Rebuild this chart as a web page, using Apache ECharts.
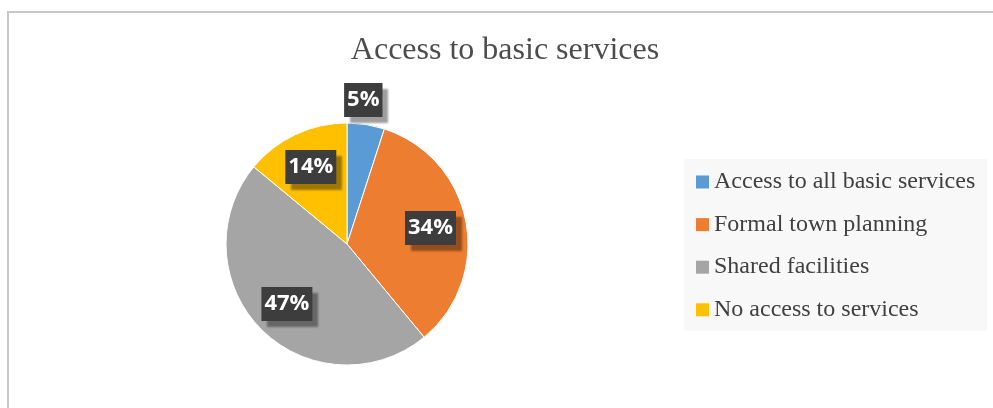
<!DOCTYPE html>
<html>
<head>
<meta charset="utf-8">
<title>Access to basic services</title>
<script src="https://cdn.jsdelivr.net/npm/echarts@6/dist/echarts.min.js"></script>
<style>
  html, body { margin: 0; padding: 0; background: #ffffff; }
  #chart { width: 993px; height: 408px; }
</style>
</head>
<body>
<div id="chart"></div>
<script>
// Survey shares (percent of respondents)
const chartTitle = 'Access to basic services';
const categories = [
  'Access to all basic services',
  'Formal town planning',
  'Shared facilities',
  'No access to services'
];
const shares = [5, 34, 47, 14];
const sliceColors = ['#5B9BD5', '#ED7D31', '#A5A5A5', '#FFC000'];

const center = [347, 244];

// Dark callout boxes with a drop shadow for the percentage labels
const labelBox = {
  show: true,
  position: 'inside',
  formatter: p => p.value + '%',
  color: '#ffffff',
  fontFamily: '"Open Sans", "DejaVu Sans", sans-serif',
  fontWeight: 'bold',
  fontSize: 22,
  lineHeight: 26,
  backgroundColor: '#3d3d3d',
  padding: [4, 3, 4, 3],
  shadowColor: 'rgba(0,0,0,0.38)',
  shadowBlur: 2,
  shadowOffsetX: 6,
  shadowOffsetY: 6
};

const chart = echarts.init(document.getElementById('chart'), null, { renderer: 'canvas' });

chart.setOption({
  animation: false,
  backgroundColor: '#ffffff',
  graphic: [{
    type: 'rect',
    silent: true,
    shape: { x: 8, y: 12, width: 1100, height: 500 },
    style: { fill: 'none', stroke: '#c8c8c8', lineWidth: 2 }
  }],
  title: {
    text: chartTitle,
    left: 505,
    top: 35,
    textAlign: 'center',
    padding: 0,
    textStyle: {
      fontFamily: '"Liberation Serif", "Times New Roman", serif',
      fontWeight: 'normal',
      fontSize: 32,
      lineHeight: 32,
      color: '#4d4d4d'
    }
  },
  legend: {
    orient: 'vertical',
    left: 684,
    top: 159,
    padding: [11, 12, 9, 12],
    backgroundColor: '#f8f8f8',
    itemWidth: 13,
    itemHeight: 13,
    itemGap: 18.6,
    icon: 'rect',
    selectedMode: false,
    data: categories,
    textStyle: {
      fontFamily: '"Liberation Serif", "Times New Roman", serif',
      fontSize: 24,
      lineHeight: 24,
      color: '#404040',
      padding: [0, 0, 0, 0]
    },
    itemStyle: { borderWidth: 0 }
  },
  series: [
    {
      // visible pie
      name: 'slices',
      type: 'pie',
      center: center,
      radius: [0, 121],
      startAngle: 90,
      clockwise: true,
      label: { show: false },
      labelLine: { show: false },
      emphasis: { disabled: true },
      itemStyle: { borderColor: '#ffffff', borderWidth: 1 },
      data: categories.map((name, i) => ({
        name: name,
        value: shares[i],
        itemStyle: { color: sliceColors[i] }
      }))
    },
    {
      // transparent ring that only carries the percentage labels
      name: 'labels',
      type: 'pie',
      center: center,
      radius: [0, 164],
      startAngle: 90,
      clockwise: true,
      silent: true,
      legendHoverLink: false,
      emphasis: { disabled: true },
      itemStyle: { color: 'rgba(0,0,0,0)' },
      labelLine: { show: false },
      label: labelBox,
      data: categories.map((name, i) => ({
        name: name,
        value: shares[i],
        label: i === 0 ? { offset: [3, -60] } : {}
      }))
    }
  ]
});
</script>
</body>
</html>
